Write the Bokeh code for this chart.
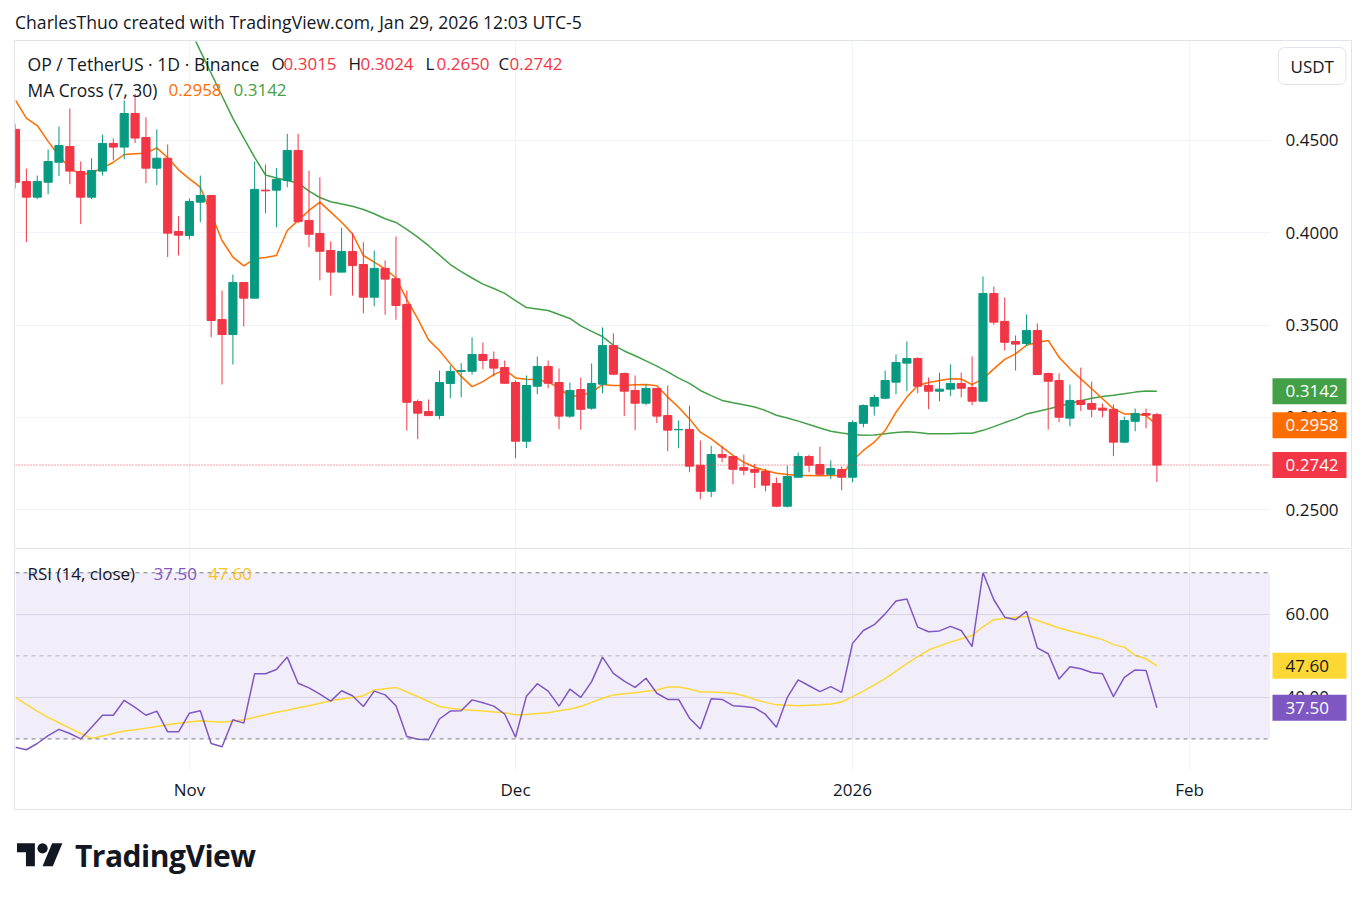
import numpy as np
import pandas as pd
from bokeh.plotting import figure
from bokeh.models import (Range1d, FixedTicker, Grid, Span,
                          BoxAnnotation, Label, Div, ColumnDataSource)
from bokeh.core.properties import value
from bokeh.layouts import column, row
from bokeh.embed import file_html
from bokeh.resources import INLINE

FONT = "Open Sans"
FS = "17px"
TXT = "#131722"
UP = "#089981"
DOWN = "#f23645"
MA_FAST_C = "#ff6d00"
MA_SLOW_C = "#43a047"
RSI_C = "#7e57c2"
RSI_MA_C = "#fdd835"
GRID_C = "#f0f3fa"
FRAME_C = "#e0e3eb"

# ---------------- data ----------------
dates = pd.date_range("2025-10-16", "2026-01-29", freq="D")

opens = [
    .4560, .4278, .4193, .4274, .4382, .4467, .4332, .4193, .4334, .4484, .4464, .4646, .4516, .4350, .4404, .4007,
    .3985, .4166, .4202, .3530, .3449, .3731, .3646, .4231, .4231, .4283, .4446, .4067, .3996, .3904, .3787,
    .3899, .3828, .3651, .3807, .3751, .3612, .3086, .3032, .3010, .3184, .3249, .3250, .3341, .3314, .3270,
    .3189, .2871, .3169, .3276, .3189, .3007, .3151, .3050, .3180, .3389, .3238, .3146, .3077, .3157, .3010,
    .2933, .2935, .2741, .2600, .2799, .2788, .2729, .2718, .2707, .2642, .2519, .2676, .2788, .2745, .2692, .2718,
    .2676, .2968, .3061, .3104, .3191, .3294, .3319, .3173, .3142, .3153, .3184, .3162, .3088, .3671, .3520,
    .3411, .3400, .3471, .3238, .3200, .2996, .3092, .3075, .3050, .3044, .2866, .2979, .3021, .3015]
highs = [
    .4590, .4348, .4310, .4451, .4576, .4673, .4386, .4404, .4532, .4511, .4717, .4753, .4625, .4560, .4478, .4090,
    .4186, .4310, .4205, .3687, .3774, .3731, .4386, .4370, .4350, .4536, .4536, .4337, .4301, .3953, .4027,
    .4000, .3949, .3904, .3850, .3980, .3687, .3097, .3097, .3254, .3281, .3294, .3434, .3406, .3357, .3308,
    .3200, .3227, .3330, .3308, .3265, .3189, .3216, .3292, .3487, .3455, .3243, .3227, .3178, .3160, .3173,
    .2983, .3064, .2875, .2846, .2846, .2790, .2799, .2749, .2722, .2674, .2738, .2810, .2797, .2842, .2767, .2734,
    .2983, .3070, .3124, .3254, .3341, .3411, .3326, .3216, .3243, .3287, .3243, .3330, .3763, .3709, .3650,
    .3444, .3557, .3509, .3243, .3238, .3178, .3270, .3194, .3075, .3070, .3005, .3048, .3048, .3024]
lows = [
    .4240, .3949, .4182, .4209, .4307, .4263, .4047, .4182, .4310, .4392, .4399, .4486, .4269, .4258, .3868, .3877,
    .3964, .4057, .3434, .3178, .3287, .3492, .3646, .4106, .4030, .4247, .4052, .3922, .3742, .3660, .3787,
    .3660, .3564, .3602, .3557, .3529, .2929, .2882, .3007, .2990, .3104, .3109, .3232, .3261, .3222, .3183,
    .2779, .2834, .3126, .3158, .2936, .2998, .2933, .3041, .3131, .3229, .3007, .2931, .3066, .2969, .2817,
    .2833, .2703, .2557, .2568, .2757, .2638, .2687, .2617, .2600, .2514, .2512, .2674, .2703, .2685, .2665, .2606,
    .2649, .2947, .3010, .3099, .3126, .3142, .3131, .3044, .3088, .3115, .3109, .3066, .3085, .3502, .3362,
    .3254, .3386, .3232, .2934, .2974, .2952, .3034, .3001, .3001, .2790, .2860, .2925, .2941, .2650]
closes = [
    .4274, .4193, .4278, .4386, .4473, .4334, .4193, .4337, .4484, .4464, .4646, .4513, .4350, .4404, .3998, .3987,
    .4170, .4202, .3525, .3449, .3731, .3646, .4235, .4227, .4289, .4446, .4061, .3992, .3900, .3787, .3899,
    .3823, .3651, .3807, .3749, .3606, .3082, .3023, .3010, .3189, .3249, .3254, .3341, .3308, .3267, .3185,
    .2871, .3173, .3276, .3185, .3007, .3146, .3044, .3184, .3389, .3234, .3142, .3077, .3157, .3007, .2931,
    .2935, .2736, .2600, .2799, .2784, .2719, .2714, .2703, .2633, .2519, .2680, .2788, .2741, .2692, .2723, .2676,
    .2972, .3064, .3108, .3200, .3297, .3319, .3169, .3142, .3153, .3184, .3158, .3088, .3671, .3516, .3407,
    .3397, .3471, .3232, .3196, .3001, .3092, .3070, .3044, .3039, .2866, .2983, .3021, .3012, .2742]

ma_fast = [
    .4717, .4621, .4581, .4495, .4417, .4350, .4314, .4325, .4350, .4382, .4424, .4428, .4431, .4460, .4406, .4341,
    .4292, .4247, .4103, .3958, .3868, .3821, .3859, .3866, .3877, .4012, .4067, .4121, .4166, .4112, .4057,
    .3994, .3877, .3841, .3805, .3755, .3638, .3535, .3420, .3362, .3290, .3222, .3167, .3194, .3232, .3259,
    .3214, .3207, .3205, .3191, .3160, .3113, .3119, .3137, .3178, .3173, .3173, .3177, .3178, .3171, .3110,
    .3055, .2992, .2920, .2884, .2839, .2794, .2757, .2730, .2712, .2698, .2691, .2685, .2685, .2684, .2685, .2685,
    .2767, .2821, .2866, .2929, .3028, .3110, .3173, .3189, .3200, .3209, .3208, .3178, .3209, .3263, .3314,
    .3344, .3391, .3407, .3417, .3326, .3263, .3209, .3155, .3101, .3047, .3019, .3019, .3010, .2958]
ma_slow = [np.nan] * 15 + [
    .5233,
    .5110, .4985, .4864, .4741, .4620, .4513, .4408, .4313, .4297, .4283, .4270, .4226, .4191, .4168, .4156,
    .4144, .4126, .4103, .4076, .4056, .4018, .3976, .3930, .3879, .3828, .3790, .3755, .3722, .3698, .3672,
    .3633, .3595, .3587, .3579, .3557, .3536, .3496, .3466, .3438, .3392, .3360, .3334, .3306, .3278, .3247,
    .3213, .3184, .3146, .3118, .3092, .3080, .3069, .3056, .3037, .3012, .2997, .2980, .2962, .2943, .2925, .2915,
    .2908, .2904, .2905, .2912, .2918, .2922, .2918, .2912, .2911, .2912, .2914, .2914, .2930, .2950, .2972,
    .2992, .3018, .3032, .3046, .3061, .3075, .3090, .3104, .3113, .3120, .3128, .3137, .3143, .3142]

rsi = [
    28.0, 27.4, 28.9, 30.8, 32.3, 31.3, 30.0, 32.8, 35.7, 35.7, 39.3, 37.6, 35.7, 36.7, 31.7, 31.7,
    36.2, 36.8, 28.9, 28.1, 34.6, 33.8, 45.7, 45.7, 46.7, 49.7, 43.4, 42.3, 40.8, 39.1, 41.6,
    40.4, 37.8, 41.5, 40.6, 38.0, 30.6, 29.9, 29.8, 34.8, 36.7, 36.8, 39.4, 38.7, 37.9, 36.0,
    30.4, 40.3, 43.3, 41.5, 37.9, 42.0, 40.0, 43.8, 49.7, 45.8, 43.9, 42.4, 44.6, 41.0, 39.5,
    39.5, 35.0, 32.4, 39.7, 39.5, 38.0, 37.8, 37.5, 35.9, 32.8, 40.0, 44.2, 42.8, 41.4, 42.6, 41.2,
    53.0, 56.1, 57.5, 60.1, 63.2, 63.7, 56.9, 55.8, 56.0, 57.1, 56.1, 52.2, 70.0, 63.5, 59.3,
    58.7, 60.7, 51.9, 50.5, 44.4, 47.4, 46.9, 46.0, 45.7, 40.2, 44.8, 46.6, 46.5, 37.5]
rsi_ma = [
    40.0, 38.3, 36.7, 35.2, 33.9, 32.6, 31.3, 30.1, 30.7, 31.3, 31.9, 32.2, 32.6, 33.0, 33.4, 33.8,
    34.1, 34.4, 34.2, 34.0, 34.3, 34.6, 35.2, 35.8, 36.4, 36.9, 37.5, 38.0, 38.6, 39.2, 39.6,
    40.0, 40.4, 41.8, 42.1, 42.4, 41.3, 40.2, 39.0, 37.8, 37.4, 37.1, 36.9, 36.7, 36.5, 36.3,
    35.8, 35.9, 36.1, 36.3, 36.8, 37.2, 37.8, 38.8, 39.8, 40.6, 40.9, 41.1, 41.5, 41.8, 42.5,
    42.5, 42.0, 41.3, 41.3, 41.2, 41.0, 40.4, 39.5, 38.8, 38.2, 38.1, 38.0, 38.1, 38.2, 38.4, 38.9,
    40.2, 41.5, 43.0, 44.5, 46.3, 48.1, 49.8, 51.4, 52.4, 53.3, 54.1, 54.9, 57.0, 58.7, 59.0,
    59.3, 59.5, 58.5, 57.6, 56.7, 56.0, 55.3, 54.6, 53.9, 52.7, 52.1, 50.1, 49.3, 47.6]

month_starts = ["2025-11-01", "2025-12-01", "2026-01-01", "2026-02-01"]
month_labels = ["Nov", "Dec", "2026", "Feb"]
price_ticks = [0.25, 0.30, 0.35, 0.40, 0.45]
rsi_ticks = [40, 60]
rsi_levels = [30, 50, 70]
last_ohlc = [0.3015, 0.3024, 0.2650, 0.2742]
ma_last = [0.2958, 0.3142]
rsi_last = [37.50, 47.60]

# ---------------- derived ----------------
origin = pd.Timestamp("2025-11-01")
x = np.array((dates - origin).days, dtype=float)
mticks = [float((pd.Timestamp(d) - origin).days) for d in month_starts]

o = np.array(opens); c = np.array(closes)
colors = [UP if cc >= oo else DOWN for oo, cc in zip(o, c)]
src = ColumnDataSource(dict(x=x, open=o, high=highs, low=lows, close=c,
                            top=np.maximum(o, c), bottom=np.minimum(o, c), color=colors))

LB = 15          # page x of the plot frames' left edge
SW = 81          # width of the price-scale column
PW = 1255        # width of the plot frames
PH = 507         # price panel height (frame = whole height)
RF = 221         # RSI frame height
RB = 39          # time axis height
RH = RF + RB
P_TOP = 41
R_TOP = 549
xr = Range1d(-16.0, 99.45)
yr_price = Range1d(0.2290, 0.5036)
yr_rsi = Range1d(22.4, 75.6)


def bare(fig):
    fig.outline_line_color = None
    fig.xgrid.visible = False
    fig.ygrid.visible = False
    return fig


def box(w, h, color=None, left=0):
    st = {"background-color": color} if color else {}
    return Div(text="", width=w, height=h, margin=(0, 0, 0, left), styles=st)


# ---------------- price panel ----------------
p = bare(figure(width=PW, height=PH, x_range=xr, y_range=yr_price,
                x_axis_location=None, y_axis_location=None, toolbar_location=None,
                output_backend="svg", min_border=0))
p.add_layout(Grid(dimension=0, ticker=FixedTicker(ticks=mticks), grid_line_color=GRID_C))
p.add_layout(Grid(dimension=1, ticker=FixedTicker(ticks=price_ticks), grid_line_color=GRID_C))
p.add_layout(Span(location=last_ohlc[3], dimension="width", line_color=DOWN,
                  line_dash="1 2", line_width=1))

p.line(x, ma_slow, line_color=MA_SLOW_C, line_width=1.5)
p.line(x, ma_fast, line_color=MA_FAST_C, line_width=1.5)
p.segment(x0="x", y0="low", x1="x", y1="high", line_color="color", line_width=1, source=src)
p.vbar(x="x", width=0.75, top="top", bottom="bottom", fill_color="color",
       line_color="color", line_width=1, source=src)


def lab(fig, fh, ftop, xpage, ypage, text, color, size=FS, **kw):
    # screen units are measured from the frame's left / bottom edge
    fig.add_layout(Label(x=xpage - LB, y=fh - (ypage - ftop), x_units="screen", y_units="screen",
                         text=text, text_color=color, text_font=FONT, text_font_size=size,
                         text_baseline="middle", text_align="left", **kw))


lab(p, PH, P_TOP, 27, 63, "OP / TetherUS · 1D · Binance", TXT, size="17.6px")
lab(p, PH, P_TOP, 271, 63, "O", TXT)
lab(p, PH, P_TOP, 283, 63, f"{last_ohlc[0]:.4f}", DOWN)
lab(p, PH, P_TOP, 348, 63, "H", TXT)
lab(p, PH, P_TOP, 360, 63, f"{last_ohlc[1]:.4f}", DOWN)
lab(p, PH, P_TOP, 425, 63, "L", TXT)
lab(p, PH, P_TOP, 436, 63, f"{last_ohlc[2]:.4f}", DOWN)
lab(p, PH, P_TOP, 498, 63, "C", TXT)
lab(p, PH, P_TOP, 509, 63, f"{last_ohlc[3]:.4f}", DOWN)
lab(p, PH, P_TOP, 27, 89, "MA Cross (7, 30)", TXT, size="17.4px")
lab(p, PH, P_TOP, 168, 89, f"{ma_last[0]:.4f}", MA_FAST_C)
lab(p, PH, P_TOP, 233, 89, f"{ma_last[1]:.4f}", MA_SLOW_C)


# ---------------- scale columns (share the panels' y-ranges) ----------------
def scale_column(height, yr, ticks, fmt, bottom=0):
    s = bare(figure(width=SW, height=height, x_range=Range1d(0, SW), y_range=yr,
                    x_axis_location=None, y_axis_location=None, toolbar_location=None,
                    output_backend="svg", min_border_left=0, min_border_right=0,
                    min_border_top=0, min_border_bottom=bottom))
    s.text(x=[15] * len(ticks), y=ticks, text=[fmt.format(t) for t in ticks],
           text_font=value(FONT), text_font_size=value(FS), text_color=TXT,
           text_baseline="middle", text_align="left")
    return s


def tags(s, vals, texts, bgs, fgs):
    # coloured value tags: 74 x 26 px boxes starting 2 px right of the plot edge
    s.rect(x=[2 + 37] * len(vals), y=vals, width=74, height=26, width_units="screen",
           height_units="screen", fill_color=bgs, line_color=None)
    s.text(x=[15] * len(vals), y=vals, text=texts, text_color=fgs,
           text_font=value(FONT), text_font_size=value(FS),
           text_baseline="middle", text_align="left")


ps = scale_column(PH, yr_price, price_ticks, "{:.4f}")
tags(ps, [ma_last[1], ma_last[0], last_ohlc[3]],
     [f"{ma_last[1]:.4f}", f"{ma_last[0]:.4f}", f"{last_ohlc[3]:.4f}"],
     [MA_SLOW_C, MA_FAST_C, DOWN], ["white", "white", "white"])
ps.add_layout(Label(x=8, y=PH - (65.5 - P_TOP), x_units="data", y_units="screen",
                    text="USDT", text_color=TXT, text_font=FONT, text_font_size=FS,
                    text_baseline="middle", text_align="left",
                    background_fill_color="white", border_line_color=FRAME_C,
                    border_radius=6, padding=dict(left=12, right=12, top=7, bottom=7)))

# ---------------- RSI panel ----------------
r = bare(figure(width=PW, height=RH, x_range=xr, y_range=yr_rsi,
                y_axis_location=None, toolbar_location=None, output_backend="svg",
                min_border_left=0, min_border_right=0, min_border_top=0, min_border_bottom=RB))
r.add_layout(Grid(dimension=0, ticker=FixedTicker(ticks=mticks), grid_line_color=GRID_C))
r.add_layout(Grid(dimension=1, ticker=FixedTicker(ticks=rsi_ticks), grid_line_color="#e6e3ee"))
r.add_layout(BoxAnnotation(bottom=rsi_levels[0], top=rsi_levels[2], fill_color=RSI_C,
                           fill_alpha=0.1, line_color=None, level="underlay"))
for lv in rsi_levels:
    r.add_layout(Span(location=lv, dimension="width", line_color="#787b86",
                      line_dash="4 4", line_width=1, line_alpha=0.5 if lv == 50 else 1.0))

xa = r.xaxis[0]
xa.ticker = FixedTicker(ticks=mticks)
xa.major_label_overrides = {t: lbl for t, lbl in zip(mticks, month_labels)}
xa.axis_line_color = None
xa.major_tick_line_color = None
xa.minor_tick_line_color = None
xa.major_tick_out = 0
xa.major_tick_in = 0
xa.minor_tick_out = 0
xa.major_label_standoff = 7
xa.major_label_text_font = FONT
xa.major_label_text_font_size = FS
xa.major_label_text_color = TXT

r.line(x, rsi_ma, line_color=RSI_MA_C, line_width=1.5)
r.line(x, rsi, line_color=RSI_C, line_width=1.5)

lab(r, RF, R_TOP, 27, 573, "RSI (14, close)", TXT)
lab(r, RF, R_TOP, 153, 573, f"{rsi_last[0]:.2f}", RSI_C)
lab(r, RF, R_TOP, 208, 573, f"{rsi_last[1]:.2f}", "#f5c518")

rs = scale_column(RH, yr_rsi, rsi_ticks, "{:.2f}", bottom=RB)
tags(rs, [rsi_last[1], rsi_last[0]], [f"{rsi_last[1]:.2f}", f"{rsi_last[0]:.2f}"],
     [RSI_MA_C, RSI_C], [TXT, "white"])

# ---------------- page furniture ----------------
FULL = LB - 1 + 1 + PW + SW + 1 - (LB - 1)   # bordered chart width
header = Div(text=('<div style="font-family:\'Open Sans\';font-size:17.6px;color:#131722;'
                   'padding-left:15px;padding-top:8px;line-height:28px;white-space:nowrap;">'
                   'CharlesThuo created with TradingView.com, Jan 29, 2026 12:03 UTC-5</div>'),
             width=LB + PW + SW + 1, height=P_TOP - 1, margin=0)
top_line = box(PW + SW + 2, 1, FRAME_C, left=LB - 1)
price_row = row(box(LB - 1, PH), box(1, PH, FRAME_C), p, ps, box(1, PH, FRAME_C), spacing=0)
sep = box(PW + SW, 1, FRAME_C, left=LB)
rsi_row = row(box(LB - 1, RH), box(1, RH, FRAME_C), r, rs, box(1, RH, FRAME_C), spacing=0)
bottom_line = box(PW + SW + 2, 1, FRAME_C, left=LB - 1)
logo_svg = ('<svg width="46" height="36" viewBox="0 0 36 28" xmlns="http://www.w3.org/2000/svg">'
            '<path fill="#131722" d="M14 22H7V11H0V4h14v18zM28 22h-8l7.5-18h8L28 22z"/>'
            '<circle fill="#131722" cx="20" cy="8" r="4"/></svg>')
logo = Div(text=('<div style="display:flex;align-items:center;padding-left:17px;padding-top:25px;">'
                 + logo_svg +
                 '<span style="font-family:\'Open Sans\';font-weight:700;font-size:30px;color:#131722;'
                 'margin-left:12px;letter-spacing:-0.5px;">TradingView</span></div>'),
           width=LB + PW + SW + 1, height=80, margin=0)

layout = column(header, top_line, price_row, sep, rsi_row, bottom_line, logo, spacing=0)
open("out.html", "w").write(file_html(layout, INLINE))
